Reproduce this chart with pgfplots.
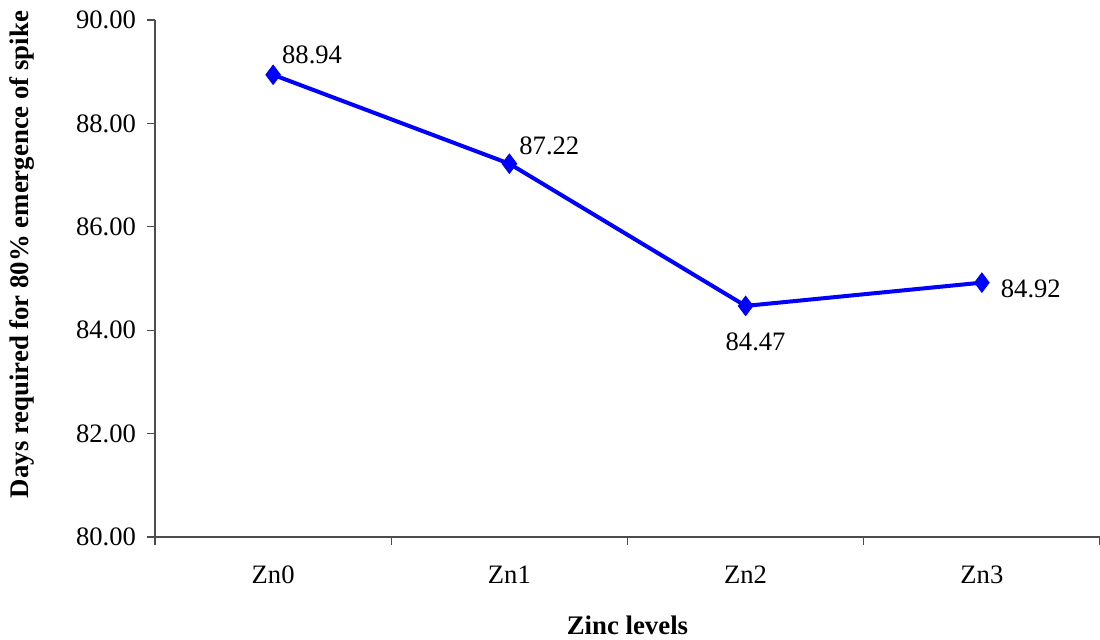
\documentclass[border=0pt]{standalone}
\usepackage{pgfplots}
\pgfplotsset{compat=1.18}
\usepackage{fontspec}
\setmainfont{Liberation Serif}
\begin{document}
\begin{tikzpicture}
\begin{axis}[
  at={(0,0)}, anchor=south west,
  scale only axis,
  width=472.5pt, height=258.5pt,
  xmin=-0.5, xmax=3.5, ymin=80, ymax=90,
  axis lines*=left,
  axis line style={black!70, line width=0.6pt},
  xtick={-0.5,0.5,1.5,2.5,3.5},
  xticklabels={Zn0,Zn1,Zn2,Zn3},
  x tick label as interval,
  ytick={80,82,84,86,88,90},
  tick style={black!70, line width=0.6pt},
  tick align=outside,
  major tick length=4pt,
  y tick label style={/pgf/number format/fixed, /pgf/number format/fixed zerofill, /pgf/number format/precision=2, /pgf/number format/assume math mode=true, xshift=-2pt},
  x tick label style={yshift=-7pt},
  tick label style={font=\fontsize{13.3}{15}\selectfont},
  xlabel={\textbf{Zinc levels}},
  ylabel={\textbf{Days required for 80\% emergence of spike}},
  every axis x label/.style={at={(axis description cs:0.5,0)}, anchor=center, yshift=-44pt, font=\fontsize{13.4}{15}\selectfont},
  every axis y label/.style={at={(axis description cs:0,0.5)}, rotate=90, anchor=center, yshift=66.5pt, xshift=12pt, font=\fontsize{13.4}{15}\selectfont},
  clip=false,
]
\addplot[blue, line width=2pt, mark=diamond*, mark size=4.8pt, mark options={fill=blue, line width=0.5pt},
  nodes near coords, point meta=explicit symbolic,
  visualization depends on={\thisrow{dx}\as\mydx},
  visualization depends on={\thisrow{dy}\as\mydy},
  every node near coord/.append style={anchor=center, xshift=\mydx pt, yshift=\mydy pt, font=\fontsize{13.3}{15}\selectfont, text=black}]
table[x=x, y=y, meta=lab] {
x y lab dx dy
0 88.94 88.94 19.5 10
1 87.22 87.22 20 9
2 84.47 84.47 5 -18
3 84.92 84.92 24.5 -3
};
\end{axis}
\pgfresetboundingbox
\path (-77.5pt,-51pt) rectangle (472.5pt,268.5pt);
\end{tikzpicture}
\end{document}
